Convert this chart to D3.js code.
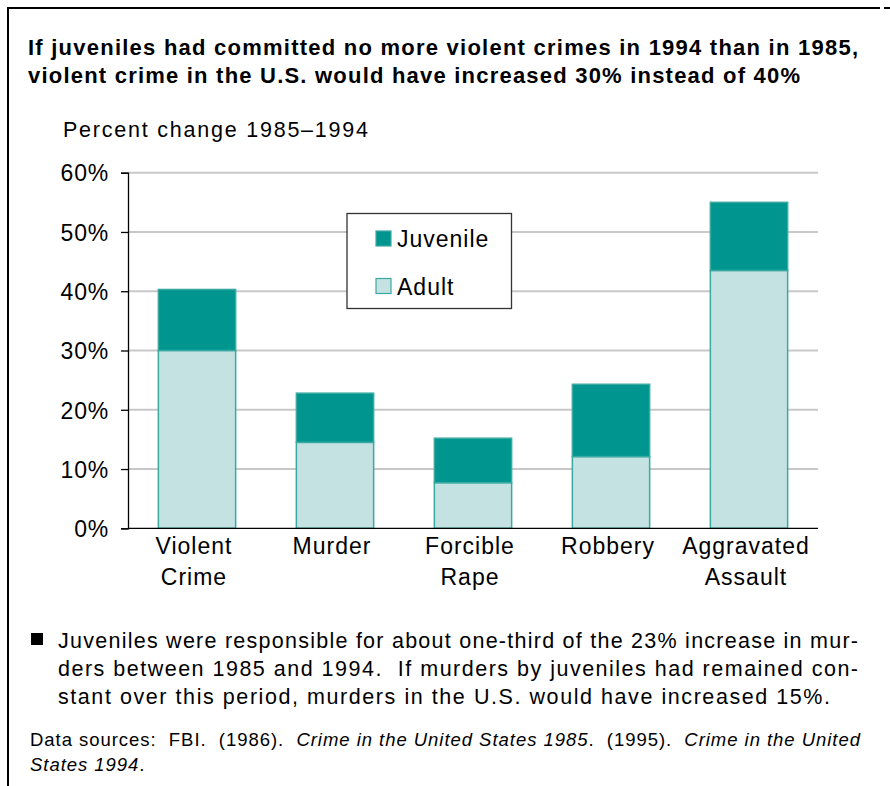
<!DOCTYPE html>
<html>
<head>
<meta charset="utf-8">
<title>Juvenile violent crime</title>
<script src="https://d3js.org/d3.v7.min.js"></script>
<style>
  body { margin: 0; background: #fff; }
  svg text { font-family: "Liberation Sans", Arial, sans-serif; fill: #000; }
</style>
</head>
<body>
<div id="chart"></div>
<script>
// data
var categories = ["Violent Crime", "Murder", "Forcible Rape", "Robbery", "Aggravated Assault"];
var labelLines = [["Violent", "Crime"], ["Murder"], ["Forcible", "Rape"], ["Robbery"], ["Aggravated", "Assault"]];
var adult = [30.0, 14.5, 7.7, 12.1, 43.5];
var juvenile = [10.3, 8.3, 7.5, 12.2, 11.5];
var yTicks = [0, 10, 20, 30, 40, 50, 60];
var seriesNames = ["Juvenile", "Adult"];

var W = 890, H = 786;
var svg = d3.select("#chart").append("svg")
  .attr("width", W).attr("height", H);

// spread a text's letters so it spans the given width (the source font runs wider)
function fit(sel, width) {
  sel.each(function() {
    var n = this.getNumberOfChars();
    var w = this.getComputedTextLength();
    if (n > 1) d3.select(this).style("letter-spacing", ((width - w) / (n - 1)) + "px");
  });
}

// frame (top and left rule)
svg.append("line").attr("x1", 7).attr("x2", 880).attr("y1", 8).attr("y2", 8)
  .attr("stroke", "#000").attr("stroke-width", 2);
svg.append("line").attr("x1", 884).attr("x2", 890).attr("y1", 8).attr("y2", 8)
  .attr("stroke", "#000").attr("stroke-width", 2);
svg.append("line").attr("x1", 8).attr("x2", 8).attr("y1", 7).attr("y2", H)
  .attr("stroke", "#000").attr("stroke-width", 2);

// title
var title = ["If juveniles had committed no more violent crimes in 1994 than in 1985,",
             "violent crime in the U.S. would have increased 30% instead of 40%"];
var titleW = [830, 772];
svg.selectAll(".title").data(title).enter().append("text")
  .attr("x", 28).attr("y", function(d, i) { return 55 + i * 27.5; })
  .style("font-size", "22px").style("font-weight", "bold")
  .text(function(d) { return d; })
  .each(function(d, i) { fit(d3.select(this), titleW[i]); });

fit(svg.append("text").attr("x", 63).attr("y", 136.5)
  .style("font-size", "21.5px").text("Percent change 1985\u20131994"), 305);

// scales
var left = 128, right = 818, plotTop = 172.7, bottom = 528.3;
var x = d3.scaleBand().domain(categories).range([left, right]).paddingInner(0.44).paddingOuter(0.22);
var y = d3.scaleLinear().domain([0, 60]).range([bottom, plotTop]);

// gridlines
svg.append("g").selectAll("line").data(yTicks.filter(function(d) { return d > 0; }))
  .enter().append("line")
  .attr("x1", left).attr("x2", right)
  .attr("y1", function(d) { return y(d); }).attr("y2", function(d) { return y(d); })
  .attr("stroke", "#c8c8c8").attr("stroke-width", 2);

// y axis
var yAxis = svg.append("g").attr("transform", "translate(" + left + ",0)")
  .call(d3.axisLeft(y).tickValues(yTicks).tickSize(7).tickPadding(12)
    .tickFormat(function(d) { return d + "%"; }));
yAxis.select(".domain").attr("stroke", "#000").attr("stroke-width", 1.3);
yAxis.selectAll(".tick line").attr("stroke", "#000").attr("stroke-width", 1.3);
yAxis.selectAll(".tick text").style("font-size", "23px").style("letter-spacing", "0.8px")
  .style("font-family", "'Liberation Sans', Arial, sans-serif").attr("dy", "0.36em");

// stacked bars
var rows = categories.map(function(c, i) { return { cat: c, Adult: adult[i], Juvenile: juvenile[i] }; });
var stack = d3.stack().keys(["Adult", "Juvenile"])(rows);
var fills = { Adult: "#c4e2e1", Juvenile: "#00968f" };

svg.append("g").selectAll("g").data(stack).enter().append("g")
  .attr("fill", function(s) { return fills[s.key]; })
  .selectAll("rect").data(function(s) { return s; }).enter().append("rect")
  .attr("x", function(d) { return x(d.data.cat); })
  .attr("width", x.bandwidth())
  .attr("y", function(d) { return y(d[1]); })
  .attr("height", function(d) { return y(d[0]) - y(d[1]); })
  .attr("stroke", "#3aa9a2").attr("stroke-width", 1.5);

// x axis line
svg.append("line").attr("x1", left).attr("x2", right)
  .attr("y1", bottom).attr("y2", bottom)
  .attr("stroke", "#000").attr("stroke-width", 1.3);

// category labels
var catG = svg.append("g").selectAll("text").data(categories).enter().append("text")
  .attr("text-anchor", "middle").style("font-size", "23px").style("letter-spacing", "1px")
  .attr("y", 554);
catG.selectAll("tspan").data(function(d, i) { return labelLines[i].map(function(t) { return { t: t, c: d }; }); })
  .enter().append("tspan")
  .attr("x", function(d) { return x(d.c) + x.bandwidth() / 2 - 3; })
  .attr("dy", function(d, i) { return i === 0 ? 0 : 31; })
  .text(function(d) { return d.t; });

// legend
var lg = svg.append("g");
lg.append("rect").attr("x", 347).attr("y", 213.5).attr("width", 164.5).attr("height", 95)
  .attr("fill", "#fff").attr("stroke", "#333").attr("stroke-width", 1.3);
seriesNames.forEach(function(n, i) {
  lg.append("rect").attr("x", 376).attr("y", 231 + i * 47.5).attr("width", 15).attr("height", 15)
    .attr("fill", fills[n]).attr("stroke", "#3aa9a2").attr("stroke-width", 1.2);
  lg.append("text").attr("x", 397).attr("y", 247 + i * 47.5)
    .style("font-size", "23px").style("letter-spacing", "1px").text(n);
});

// bullet note
var note = ["Juveniles were responsible for about one-third of the 23% increase in mur-",
            "ders between 1985 and 1994.  If murders by juveniles had remained con-",
            "stant over this period, murders in the U.S. would have increased 15%."];
var noteW = [800, 800, 772];
svg.append("rect").attr("x", 31).attr("y", 633).attr("width", 12).attr("height", 12).attr("fill", "#000");
svg.selectAll(".note").data(note).enter().append("text")
  .attr("x", 58).attr("y", function(d, i) { return 648 + i * 28; })
  .style("font-size", "21.5px").style("white-space", "pre")
  .text(function(d) { return d; })
  .each(function(d, i) { fit(d3.select(this), noteW[i]); });

// sources
var src1 = svg.append("text").attr("x", 30).attr("y", 746).style("font-size", "18.5px").style("white-space", "pre");
src1.append("tspan").text("Data sources:  FBI.  (1986).  ");
src1.append("tspan").style("font-style", "italic").text("Crime in the United States 1985");
src1.append("tspan").text(".  (1995).  ");
src1.append("tspan").style("font-style", "italic").text("Crime in the United");
fit(src1, 830);
var src2 = svg.append("text").attr("x", 30).attr("y", 770.5).style("font-size", "18.5px")
  .style("letter-spacing", src1.style("letter-spacing"));
src2.append("tspan").style("font-style", "italic").text("States 1994");
src2.append("tspan").text(".");
</script>
</body>
</html>
